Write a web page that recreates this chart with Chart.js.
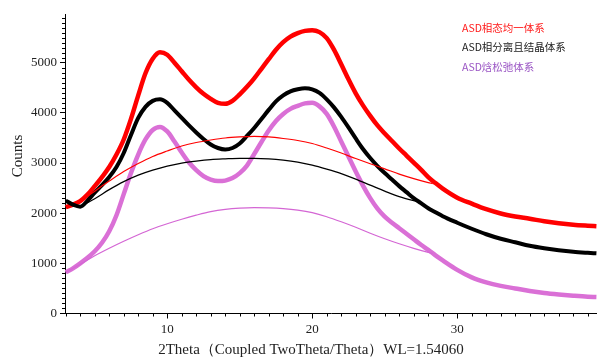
<!DOCTYPE html>
<html>
<head>
<meta charset="utf-8">
<script src="https://cdn.jsdelivr.net/npm/chart.js@4"></script>
<style>
  body { margin: 0; background: #fff; }
</style>
</head>
<body>
<canvas id="grafico" width="597" height="358"></canvas>
<script>
// medidas brutas (2theta)
var theta = [3, 3.5, 4, 4.5, 5, 5.5, 6, 6.5, 7, 7.5, 8, 8.5, 9, 9.5, 10, 10.5, 11, 11.5, 12, 12.5,
  13, 13.5, 14, 14.5, 15, 15.5, 16, 16.5, 17, 17.5, 18, 18.5, 19, 19.5, 20, 20.5, 21, 21.5, 22, 22.5,
  23, 23.5, 24, 24.5, 25, 25.5, 26, 26.5, 27, 27.5, 28, 28.5, 29, 30, 31, 32, 33, 34, 35, 36, 37, 38, 39, 39.6];

var vermelho = [2120, 2170, 2240, 2370, 2540, 2720, 2920, 3170, 3470, 3880, 4350, 4790, 5080, 5210, 5160, 5000, 4830, 4660, 4510, 4380,
  4280, 4200, 4180, 4240, 4370, 4520, 4690, 4880, 5070, 5260, 5410, 5520, 5590, 5635, 5650, 5610, 5490, 5260, 4970, 4670,
  4390, 4150, 3940, 3750, 3590, 3440, 3290, 3150, 3010, 2870, 2720, 2600, 2490, 2310, 2190, 2080, 1995, 1935, 1890, 1840, 1800, 1770, 1750, 1740];

var preto = [2250, 2170, 2130, 2250, 2410, 2560, 2720, 2920, 3200, 3560, 3900, 4120, 4240, 4270, 4200, 4050, 3900, 3750, 3610, 3480,
  3370, 3300, 3270, 3300, 3390, 3540, 3700, 3880, 4060, 4230, 4350, 4430, 4470, 4490, 4470, 4400, 4270, 4110, 3920, 3710,
  3490, 3280, 3100, 2940, 2800, 2670, 2540, 2420, 2300, 2200, 2100, 2020, 1940, 1810, 1690, 1580, 1490, 1420, 1350, 1300, 1260, 1230, 1210, 1200];

var violeta = [820, 900, 1000, 1110, 1240, 1410, 1640, 1960, 2380, 2800, 3170, 3470, 3660, 3720, 3630, 3430, 3210, 3010, 2860, 2740,
  2670, 2640, 2650, 2700, 2800, 2950, 3180, 3420, 3650, 3840, 3980, 4080, 4140, 4190, 4200, 4130, 3980, 3730, 3430, 3130,
  2830, 2550, 2300, 2090, 1930, 1810, 1700, 1590, 1480, 1370, 1270, 1160, 1060, 870, 720, 620, 550, 500, 450, 410, 380, 355, 335, 330];

// curvas de ajuste (fundo amorfo)
var thetaAjVerm = [4, 5, 6, 7, 8, 9, 10, 11, 12, 13, 14, 15, 16, 17, 18, 19, 20, 21, 22, 23, 24, 25, 26, 27, 28, 28.3];
var ajusteVerm = [2240, 2440, 2640, 2830, 2990, 3130, 3240, 3340, 3410, 3460, 3500, 3520, 3530, 3520, 3490, 3450, 3390, 3300, 3200, 3090, 2985, 2885, 2780, 2690, 2610, 2590];

var thetaAjPreto = [4, 5, 6, 7, 8, 9, 10, 11, 12, 13, 14, 15, 16, 17, 18, 19, 20, 21, 22, 23, 24, 25, 26, 27, 27.3];
var ajustePreto = [2130, 2290, 2470, 2630, 2760, 2860, 2940, 3000, 3040, 3070, 3085, 3095, 3095, 3085, 3060, 3020, 2960, 2880, 2790, 2680, 2560, 2440, 2330, 2250, 2230];

var thetaAjViol = [3, 4, 5, 6, 7, 8, 9, 10, 11, 12, 13, 14, 15, 16, 17, 18, 19, 20, 21, 22, 23, 24, 25, 26, 27, 28, 28.3];
var ajusteViol = [820, 980, 1150, 1300, 1440, 1570, 1690, 1790, 1880, 1960, 2030, 2075, 2100, 2110, 2105, 2090, 2060, 2010, 1930, 1830, 1720, 1600, 1490, 1390, 1300, 1220, 1200];

var ticksX = [10, 20, 30];
var ticksY = [0, 1000, 2000, 3000, 4000, 5000];
var legendas = ["ASD相态均一体系", "ASD相分离且结晶体系", "ASD焓松弛体系"];
var tituloX = "2Theta（Coupled TwoTheta/Theta）WL=1.54060";
var tituloY = "Counts";

var serif = "'Liberation Serif', 'DejaVu Serif', serif";

function pontos(xs, ys) {
  return xs.map(function (x, i) { return { x: x, y: ys[i] }; });
}

// tracinhos menores e textos
var extras = {
  id: "extras",
  afterDraw: function (chart) {
    var ctx = chart.ctx;
    var sx = chart.scales.x;
    var sy = chart.scales.y;
    var area = chart.chartArea;
    ctx.save();
    ctx.strokeStyle = "#000";
    ctx.lineWidth = 1;
    ctx.beginPath();
    for (var v = 3; v <= 39; v++) {
      if (v % 10 == 0) continue;
      var px = Math.round(sx.getPixelForValue(v)) + 0.5;
      ctx.moveTo(px, area.bottom);
      ctx.lineTo(px, area.bottom + 3);
    }
    for (var c = 100; c <= 5900; c += 100) {
      if (c % 1000 == 0) continue;
      var py = Math.round(sy.getPixelForValue(c)) + 0.5;
      ctx.moveTo(area.left, py);
      ctx.lineTo(area.left - 3, py);
    }
    ctx.stroke();

    ctx.fillStyle = "#222";
    ctx.font = "15px " + serif;
    ctx.textAlign = "center";
    ctx.textBaseline = "middle";
    ctx.fillText(tituloX, 311, 350);

    ctx.save();
    ctx.translate(18, 156);
    ctx.rotate(-Math.PI / 2);
    ctx.fillText(tituloY, 0, 0);
    ctx.restore();

    var cores = ["#ff1a1a", "#1a1a1a", "#9a55c4"];
    var ys = [28, 47, 67];
    ctx.font = "10.5px 'Noto Sans CJK SC', sans-serif";
    ctx.textAlign = "left";
    for (var i = 0; i < legendas.length; i++) {
      ctx.fillStyle = cores[i];
      ctx.fillText(legendas[i], 462, ys[i]);
    }
    ctx.restore();
  }
};

var ctx = document.getElementById("grafico");

new Chart(ctx, {
  type: "line",
  data: {
    datasets: [
      { label: "ajuste verm", data: pontos(thetaAjVerm, ajusteVerm), borderColor: "#ff0000", borderWidth: 1.2, order: 1 },
      { label: "ajuste preto", data: pontos(thetaAjPreto, ajustePreto), borderColor: "#000000", borderWidth: 1.2, order: 1 },
      { label: "ajuste viol", data: pontos(thetaAjViol, ajusteViol), borderColor: "#d466d4", borderWidth: 1.2, order: 1 },
      { label: legendas[2], data: pontos(theta, violeta), borderColor: "#da70d6", borderWidth: 4.5, order: 2 },
      { label: legendas[1], data: pontos(theta, preto), borderColor: "#000000", borderWidth: 4, order: 3 },
      { label: legendas[0], data: pontos(theta, vermelho), borderColor: "#ff0000", borderWidth: 4.5, order: 4 }
    ]
  },
  options: {
    responsive: false,
    animation: false,
    devicePixelRatio: 1,
    layout: { padding: { top: 14, right: 0, left: 0, bottom: 0 } },
    elements: {
      point: { radius: 0 },
      line: { cubicInterpolationMode: "monotone", fill: false }
    },
    plugins: {
      legend: { display: false },
      tooltip: { enabled: false }
    },
    scales: {
      x: {
        type: "linear",
        min: 2.95,
        max: 39.64,
        afterFit: function (s) { s.height = 44.5; },
        afterBuildTicks: function (s) { s.ticks = ticksX.map(function (v) { return { value: v }; }); },
        grid: { drawOnChartArea: false, tickLength: 5, color: "#000", tickColor: "#000" },
        border: { display: true, color: "#000", width: 1 },
        ticks: { color: "#222", font: { family: serif, size: 13 }, padding: 3, maxRotation: 0,
          callback: function (v) { return String(v); } }
      },
      y: {
        min: 0,
        max: 5972,
        afterFit: function (s) { s.width = 65; },
        afterBuildTicks: function (s) { s.ticks = ticksY.map(function (v) { return { value: v }; }); },
        grid: { drawOnChartArea: false, tickLength: 5, color: "#000", tickColor: "#000" },
        border: { display: true, color: "#000", width: 1 },
        ticks: { color: "#222", font: { family: serif, size: 13 }, padding: 3,
          callback: function (v) { return String(v); } }
      }
    }
  },
  plugins: [extras]
});
</script>
</body>
</html>
